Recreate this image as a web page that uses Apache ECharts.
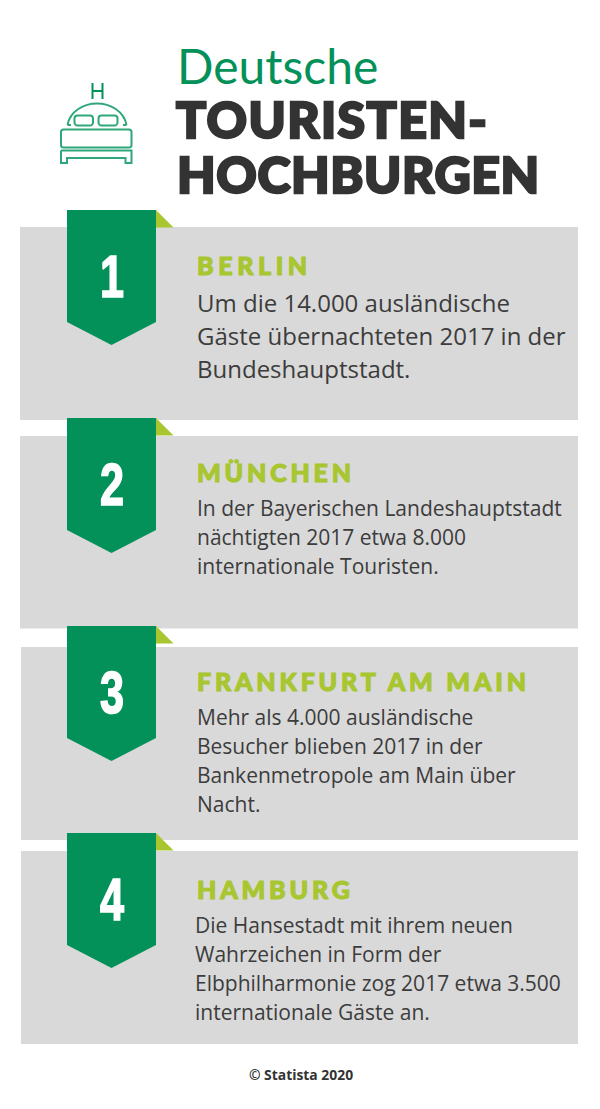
<!DOCTYPE html>
<html><head><meta charset="utf-8">
<style>html,body{margin:0;padding:0;background:#fff}#c{width:600px;height:1109px}</style>
<script src="https://cdn.jsdelivr.net/npm/echarts@6/dist/echarts.min.js"></script>
</head><body><div id="c"></div>
<script>
const titleLines = ['Deutsche', 'TOURISTEN-', 'HOCHBURGEN'];
const ranks = ['1', '2', '3', '4'];
const cities = ['BERLIN', 'MÜNCHEN', 'FRANKFURT AM MAIN', 'HAMBURG'];
const descriptions = [
  ['Um die 14.000 ausländische', 'Gäste übernachteten 2017 in der', 'Bundeshauptstadt.'],
  ['In der Bayerischen Landeshauptstadt', 'nächtigten 2017 etwa 8.000', 'internationale Touristen.'],
  ['Mehr als 4.000 ausländische', 'Besucher blieben 2017 in der', 'Bankenmetropole am Main über', 'Nacht.'],
  ['Die Hansestadt mit ihrem neuen', 'Wahrzeichen in Form der', 'Elbphilharmonie zog 2017 etwa 3.500', 'internationale Gäste an.']
];
const source = '© Statista 2020';

// layout (pixels), kept apart from the content above
const GREEN = '#039159', LIME = '#a8c62f', GREY = '#d9d9d9', DARK = '#333333', ICON = '#2fa77a';
const cards = [
  {x: 20, y: 227, w: 558, h: 193, rib: 210, head: 265, hx: 197, bx: 197, lines: [302.5, 335.5, 368.5], fs: 24},
  {x: 20, y: 436, w: 558, h: 192.5, rib: 418, head: 472, hx: 197, bx: 197, lines: [508, 537, 566], fs: 21},
  {x: 21, y: 647, w: 557, h: 193, rib: 626, head: 681, hx: 197, bx: 197, lines: [717, 746, 775, 804], fs: 21},
  {x: 21, y: 851, w: 557, h: 193, rib: 833, head: 889, hx: 197, bx: 195, lines: [925, 954, 983, 1012], fs: 21}
];
const els = [];
const txt = (text, x, y, font, fill, extra) => els.push({
  type: 'text', x, y, silent: true,
  style: Object.assign({text, font, fill, textAlign: 'left', textVerticalAlign: 'middle', textBaseline: 'middle'}, extra || {})
});

// header
txt(titleLines[0], 177, 65, '400 48px Lato', GREEN);
txt(titleLines[1], 176, 119, '900 50px Lato', DARK, {stroke: DARK, lineWidth: 2.4});
txt(titleLines[2], 177, 174, '900 50px Lato', DARK, {stroke: DARK, lineWidth: 2.4});

// bed icon
const st = {stroke: ICON, fill: 'none', lineWidth: 2};
const add = (type, shape, s) => els.push({type, shape, silent: true, style: Object.assign({}, st, s || {})});
add('line', {x1: 92.5, y1: 83, x2: 92.5, y2: 99}, {stroke: GREEN});
add('line', {x1: 102.5, y1: 83, x2: 102.5, y2: 99}, {stroke: GREEN});
add('line', {x1: 92.5, y1: 91, x2: 102.5, y2: 91}, {stroke: GREEN});
add('bezierCurve', {x1: 67.5, y1: 125, x2: 97, y2: 103.5, cpx1: 70, cpy1: 111, cpx2: 84, cpy2: 103.5});
add('bezierCurve', {x1: 126.5, y1: 125, x2: 97, y2: 103.5, cpx1: 124, cpy1: 111, cpx2: 110, cpy2: 103.5});
add('line', {x1: 67.5, y1: 125, x2: 71, y2: 125});
add('line', {x1: 123, y1: 125, x2: 126.5, y2: 125});
add('rect', {x: 74.5, y: 115.5, width: 18.5, height: 10, r: 3});
add('rect', {x: 98.5, y: 115.5, width: 19, height: 10, r: 3});
add('rect', {x: 61, y: 129.5, width: 70.5, height: 18, r: 2.5});
add('polyline', {points: [[61, 150.5], [131.5, 150.5], [131.5, 163], [125.5, 163], [125.5, 158], [67, 158], [67, 163], [61, 163], [61, 150.5]]});

// cards
cards.forEach((c, i) => {
  els.push({type: 'rect', silent: true, shape: {x: c.x, y: c.y, width: c.w, height: c.h}, style: {fill: GREY}});
  const r = c.rib;
  els.push({type: 'polygon', silent: true, shape: {points: [[156, r], [173.5, r + 17.5], [156, r + 17.5]]}, style: {fill: LIME}});
  els.push({type: 'polygon', silent: true, shape: {points: [[67, r], [156, r], [156, r + 112], [111.5, r + 135], [67, r + 112]]}, style: {fill: GREEN}});
  els.push({type: 'text', silent: true, x: 112, y: r + 66, scaleX: 0.72, style: {
    text: ranks[i], font: '700 60px "Liberation Sans"', fill: '#fff', textAlign: 'center', textVerticalAlign: 'middle', textBaseline: 'middle',
    stroke: '#fff', lineWidth: 1.6}});
  txt(cities[i], c.hx, c.head, '900 25px Lato', LIME, {stroke: LIME, lineWidth: 1.1});
  descriptions[i].forEach((l, j) => txt(l, c.bx, c.lines[j], `400 ${c.fs}px "Open Sans"`, '#3c3c3c'));
});
els.push({type: 'text', silent: true, x: 301, y: 1074, style: {text: source, font: '700 13.9px "Open Sans"', fill: DARK, textAlign: 'center', textVerticalAlign: 'middle', textBaseline: 'middle'}});

const chart = echarts.init(document.getElementById('c'), null, {renderer: 'svg', width: 600, height: 1109});
chart.setOption({animation: false, backgroundColor: '#fff', graphic: {elements: els}});
const spacing = () => document.querySelectorAll('text').forEach(t => {
  if (cities.includes(t.textContent)) t.setAttribute('letter-spacing', t.textContent === 'BERLIN' ? '4.6' : '3.8');
  if (t.textContent === titleLines[1]) t.setAttribute('letter-spacing', '1.4');
  if (t.textContent === titleLines[2]) t.setAttribute('letter-spacing', '0.6');
});
spacing();
chart.on('finished', spacing);
</script></body></html>
